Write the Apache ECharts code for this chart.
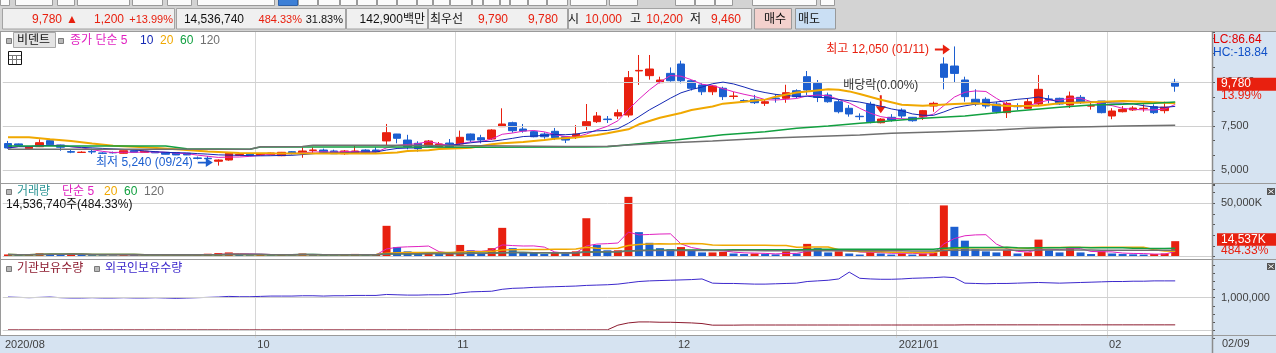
<!DOCTYPE html>
<html><head><meta charset="utf-8">
<script src="https://cdn.jsdelivr.net/npm/echarts@6/dist/echarts.min.js"></script>
<style>html,body{margin:0;padding:0;background:#fff;}#c{width:1276px;height:353px;}</style>
</head><body><div id="c"></div>
<script>
// ---------------- DATA ----------------
const dates = ['2020/08/27','2020/08/28','2020/08/31',
'2020/09/01','2020/09/02','2020/09/03','2020/09/04','2020/09/07','2020/09/08','2020/09/09','2020/09/10','2020/09/11','2020/09/14','2020/09/15','2020/09/16','2020/09/17','2020/09/18','2020/09/21','2020/09/22','2020/09/23','2020/09/24','2020/09/25','2020/09/28','2020/09/29',
'2020/10/05','2020/10/06','2020/10/07','2020/10/08','2020/10/12','2020/10/13','2020/10/14','2020/10/15','2020/10/16','2020/10/19','2020/10/20','2020/10/21','2020/10/22','2020/10/23','2020/10/26','2020/10/27','2020/10/28','2020/10/29','2020/10/30',
'2020/11/02','2020/11/03','2020/11/04','2020/11/05','2020/11/06','2020/11/09','2020/11/10','2020/11/11','2020/11/12','2020/11/13','2020/11/16','2020/11/17','2020/11/18','2020/11/19','2020/11/20','2020/11/23','2020/11/24','2020/11/25','2020/11/26','2020/11/27','2020/11/30',
'2020/12/01','2020/12/02','2020/12/03','2020/12/04','2020/12/07','2020/12/08','2020/12/09','2020/12/10','2020/12/11','2020/12/14','2020/12/15','2020/12/16','2020/12/17','2020/12/18','2020/12/21','2020/12/22','2020/12/23','2020/12/24','2020/12/28','2020/12/29','2020/12/30',
'2021/01/04','2021/01/05','2021/01/06','2021/01/07','2021/01/08','2021/01/11','2021/01/12','2021/01/13','2021/01/14','2021/01/15','2021/01/18','2021/01/19','2021/01/20','2021/01/21','2021/01/22','2021/01/25','2021/01/26','2021/01/27','2021/01/28','2021/01/29',
'2021/02/01','2021/02/02','2021/02/03','2021/02/04','2021/02/05','2021/02/08','2021/02/09'];

const openP = [6500,6480,6210,6320,6665,6420,6040,5990,6050,5960,5990,5945,6090,6000,6030,6000,5980,5945,5680,5660,5490,5560,5830,5900,5850,5860,5805,6035,5940,6110,6130,6075,5920,5960,6130,6130,6650,7046,6700,6515,6360,6320,6530,6475,7046,6835,6760,7465,7692,7330,7180,7045,7200,6890,6855,7520,7750,7900,8075,8130,10650,10380,9980,10510,11045,10090,9845,9460,9660,9190,8960,9030,8800,9100,9085,9520,10320,9940,9275,8890,8515,8060,8745,7690,8000,8418,8000,8035,8645,11045,10930,10130,9030,9030,8760,8265,8640,8515,8760,9050,9085,8700,9140,8640,8930,8075,8320,8420,8500,8605,8380,10000];
const closeP = [6250,6400,6320,6550,6435,6290,6010,6010,6020,5940,5970,6090,6000,6060,5970,5890,5850,5850,5650,5630,5560,5945,5880,5830,5900,5960,6000,5920,6075,6130,6000,5920,6075,6075,5980,6020,7120,6800,6320,6210,6645,6475,6285,6857,6700,6700,7275,7617,7235,7217,6890,6890,6835,6700,7045,7750,8075,7870,8265,10265,10680,10760,10130,10090,10090,9660,9460,9790,9180,9215,8930,8835,8890,9070,9405,9180,9560,9140,8890,8320,8190,8035,7750,7900,7845,8075,7805,8380,8800,10285,10510,9180,8760,8645,8320,8800,8605,8890,9600,9010,8760,9215,8835,8660,8265,8360,8455,8530,8515,8265,8580,9780];
const lowP = [6200,6350,6180,6300,6400,6090,5950,5960,5900,5900,5930,5930,5980,5990,5960,5880,5840,5840,5600,5450,5240,5520,5800,5800,5820,5840,5780,5880,5690,5940,5945,5920,5860,5940,5900,5940,6400,6515,6170,6035,6300,6300,6230,6400,6590,6515,6700,7465,7120,7120,6860,6780,6700,6530,6760,7275,7675,7675,7900,8000,9850,10150,9940,10040,9940,9530,9270,9270,8990,9030,8860,8760,8650,8840,8830,9085,9275,8870,8835,8225,8035,7850,7655,7650,7750,7940,7750,7845,8320,9600,9980,8890,8645,8510,8225,7960,8420,8490,8700,8800,8710,8530,8760,8440,8225,7890,8280,8360,8320,8190,8225,9460];
const highP = [6650,6500,6350,6740,6700,6440,6130,6060,6200,6000,6040,6100,6100,6070,6040,6010,5990,5950,5760,5790,5600,6000,5900,5920,5930,5980,6020,6070,6285,6285,6210,6150,6130,6400,6170,6285,7620,7050,7000,6630,6700,6590,6760,7240,7070,7000,7320,8514,7750,7620,7230,7140,7390,6890,7560,8760,8300,8075,8450,10645,11560,11560,10320,10850,11235,10130,9940,9850,9750,9460,9030,9280,8990,9330,9860,9600,10645,10130,9410,9030,8700,8225,8890,7950,8180,8510,8020,8420,8890,11430,12050,10320,9600,9140,8890,8890,8800,9080,10420,9270,9120,9470,9270,8860,8930,8520,8640,8640,8740,8740,8890,10200];

// volume, unit: 1,000 shares (K)
const volumeK = [2100,1600,1800,3200,2400,2000,3100,1700,1500,1400,1300,2000,1600,1200,1100,1300,1200,1000,2300,2800,3400,4000,1900,1500,1600,1400,1800,1300,3000,1900,1400,1300,1500,2600,1600,1700,
28900,9000,5000,3000,4000,2500,3000,11000,6000,3000,8000,27000,8000,4000,3500,2500,4000,3000,5000,36000,11000,6000,6000,56000,23000,13000,8000,7000,9000,6000,4000,4000,4500,3000,2500,3000,2500,2200,5000,3000,12000,8000,4000,5000,3000,2000,6000,3000,2000,3000,2000,3000,4000,48000,28000,15000,7000,5000,4000,6000,3000,4000,16000,6000,4000,8000,4000,2500,5000,3000,2500,2200,2000,2500,3001.41,14536.74];

// holdings (shares)
const foreignHold = [1020000,1010000,1000000,1010000,1020000,1000000,990000,990000,1000000,990000,990000,1000000,990000,990000,1000000,990000,980000,990000,1000000,1010000,1020000,1040000,1030000,1030000,
1040000,1050000,1050000,1050000,1060000,1060000,1050000,1060000,1060000,1070000,1070000,1070000,1100000,1090000,1080000,1080000,1090000,1090000,1100000,
1150000,1180000,1190000,1200000,1260000,1290000,1300000,1320000,1330000,1340000,1350000,1360000,
1380000,1390000,1400000,1420000,1460000,1500000,1520000,1530000,1540000,1550000,1560000,1580000,
1450000,1440000,1440000,1430000,1420000,1420000,1430000,1440000,1450000,1500000,1520000,1540000,
1580000,1790000,1600000,1580000,1570000,1570000,1580000,1600000,1610000,1620000,
1640000,1620000,1450000,1440000,1430000,1440000,1440000,
1450000,1460000,1470000,1460000,1450000,1460000,1470000,1480000,1490000,1500000,1500000,1510000,1510000,1520000,1520000,1520000];
const instHold = [5000,5000,5000,5000,5000,5000,5000,5000,5000,5000,5000,5000,5000,5000,5000,5000,5000,5000,5000,5000,5000,5000,5000,5000,5000,5000,5000,5000,5000,5000,5000,5000,5000,5000,5000,5000,5000,5000,5000,5000,5000,5000,5000,5000,5000,5000,5000,5000,5000,5000,5000,5000,5000,5000,5000,5000,5000,5000,
150000,220000,250000,250000,240000,240000,230000,220000,200000,
150000,150000,150000,155000,155000,155000,155000,155000,155000,155000,155000,155000,155000,155000,155000,155000,155000,155000,155000,155000,155000,155000,155000,155000,160000,160000,160000,160000,160000,160000,160000,160000,160000,160000,160000,160000,160000,160000,160000,160000,160000,160000,160000,160000,160000];

// longer moving averages: [candle index, value]
const ma20Pts = [[0,6860],[2,6860],[4,6740],[6,6640],[8,6500],[10,6380],[13,6290],[16,6170],[19,6040],[22,5960],[25,5945],[30,5930],[35,5935],[37,5990],[38,6075],[40,6120],[41,6190],[43,6230],[44,6265],[45,6360],[46,6455],[47,6515],[49,6590],[50,6645],[51,6700],[52,6780],[54,6840],[56,6990],[57,7085],[59,7315],[60,7600],[62,7975],[64,8250],[65,8415],[67,8620],[68,8780],[70,8890],[72,9010],[73,9180],[75,9420],[76,9480],[78,9600],[79,9580],[80,9480],[81,9330],[83,9000],[85,8720],[87,8660],[90,8760],[92,8800],[95,8645],[98,8660],[100,8800],[103,8855],[106,8930],[108,8890],[111,8800]];
const ma60Pts = [[0,6360],[15,6360],[17,6200],[23,6180],[24,6300],[35,6310],[45,6290],[55,6300],[57,6320],[62,6600],[65,6800],[68,7000],[72,7180],[75,7370],[78,7500],[81,7655],[83,7750],[84,7805],[87,7940],[91,8075],[94,8265],[97,8415],[100,8570],[103,8700],[106,8745],[109,8800],[111,8875]];
const ma120Pts = [[0,6170],[23,6175],[24,6320],[28,6330],[29,6400],[35,6400],[45,6370],[53,6330],[57,6350],[62,6515],[67,6650],[72,6800],[76,6890],[81,6990],[84,7085],[89,7180],[94,7275],[97,7370],[100,7430],[103,7465],[106,7500],[111,7540]];

// x-axis tick labels (first trading day shown for each label)
const tickDates = ['2020/08/27','2020/10/05','2020/11/02','2020/12/01','2021/01/04','2021/02/01'];
const tickLabels = ['2020/08','10','11','12','2021/01','02'];
const priceGridVals = [5000, 7500, 10000];
const priceLabelVals = [5000, 7500, 10000];
const volGridVals = [0, 50000];
const holdGridVals = [0, 1000000];
const dividendDate = '2020/12/29';
const dividendRate = '0.00%';

// ---------------- HELPERS ----------------
const FONT = "'Liberation Sans','Noto Sans CJK KR',sans-serif";
const UP = '#e8200f', DN = '#1c5fd0';
const C5 = '#e020c0', C10 = '#1428b4', C20 = '#f0a800', C60 = '#12a040', C120 = '#707070';
const fmt = v => Math.round(v).toLocaleString('en-US');
function sma(arr, n) {
  return arr.map((_, i) => { const s = Math.max(0, i - n + 1); let t = 0; for (let k = s; k <= i; k++) t += arr[k]; return Math.round(t / (i - s + 1)); });
}
const N = dates.length;
const cats = dates.concat(['p1', 'p2', 'p3']);
const tickIdx = tickDates.map(d => dates.indexOf(d));
const gridIdx = tickIdx.filter(i => i > 0);

const hiIdx = highP.indexOf(Math.max(...highP));
const loIdx = lowP.indexOf(Math.min(...lowP));
const divIdx = dates.indexOf(dividendDate);

const chart = echarts.init(document.getElementById('c'), null, { renderer: 'canvas' });

function xAx(gi, showLabel) {
  return {
    type: 'category', gridIndex: gi, data: cats, boundaryGap: true,
    axisLine: { show: false }, axisTick: { show: false },
    splitLine: { show: true, interval: (i) => gridIdx.includes(i), lineStyle: { color: '#d6d6d6', width: 1 } },
    axisLabel: showLabel ? {
      show: true, interval: (i) => tickIdx.includes(i), margin: 1, align: 'left', padding: [0, 0, 0, -3],
      formatter: (v, i) => { const k = tickIdx.indexOf(i); return k >= 0 ? tickLabels[k] : ''; },
      color: '#404040', fontSize: 11, fontFamily: FONT
    } : { show: false }
  };
}
function yAx(gi, min, max, interval, labelFn) {
  return {
    type: 'value', gridIndex: gi, position: 'right', min, max, interval,
    axisLine: { show: false }, splitLine: { show: false },
    axisTick: { show: true, length: 3, lineStyle: { color: '#555' } },
    axisLabel: { margin: 9, color: '#404040', fontSize: 11, fontFamily: FONT, formatter: labelFn, showMinLabel: true, showMaxLabel: true }
  };
}
function gridSeries(xi, yi, vals) {
  return { type: 'line', xAxisIndex: xi, yAxisIndex: yi, data: [], z: 1, silent: true,
    markLine: { silent: true, symbol: 'none', animation: false, label: { show: false },
      lineStyle: { color: '#d0d0d0', type: 'solid', width: 1 }, data: vals.map(v => ({ yAxis: v })) } };
}
function lineS(xi, yi, data, color, w, z) {
  return { type: 'line', xAxisIndex: xi, yAxisIndex: yi, data, showSymbol: false, symbol: 'none', z: z || 3,
    lineStyle: { color, width: w }, silent: true };
}

const candleData = dates.map((_, i) => [openP[i], closeP[i], lowP[i], highP[i]]);
const ma5 = sma(closeP, 5), ma10 = sma(closeP, 10);
const volBars = volumeK.map((v, i) => ({ value: v, itemStyle: { color: (i === 0 || v >= volumeK[i - 1]) ? UP : DN } }));

const GRID_L = 2.74, GRID_R = 64;

const option = {
  animation: false,
  backgroundColor: '#ffffff',
  grid: [
    { left: GRID_L, right: GRID_R, top: 32, height: 152.4 },
    { left: GRID_L, right: GRID_R, top: 185, height: 71.7 },
    { left: GRID_L, right: GRID_R, top: 258.9, height: 79.2 }
  ],
  xAxis: [xAx(0, false), xAx(1, false), xAx(2, true)],
  yAxis: [
    yAx(0, 12500 / 3, 12874, 2500 / 3, v => priceLabelVals.includes(Math.round(v)) ? fmt(v) : ''),
    yAx(1, 0, 67100, 10000, v => Math.round(v) === 50000 ? fmt(v) + 'K' : ''),
    yAx(2, -250000, 2200000, 250000, v => Math.round(v) === 1000000 ? fmt(v) : '')
  ],
  series: [
    gridSeries(0, 0, priceGridVals),
    gridSeries(1, 1, volGridVals),
    gridSeries(2, 2, holdGridVals),
    {
      type: 'candlestick', xAxisIndex: 0, yAxisIndex: 0, data: candleData, barWidth: 8, z: 4,
      itemStyle: { color: UP, color0: DN, borderColor: UP, borderColor0: DN, borderWidth: 1 },
      markPoint: {
        silent: true, animation: false,
        data: [
          { coord: [dates[hiIdx], highP[hiIdx]], symbol: 'path://M0,4L8,4L8,0L15,5L8,10L8,6L0,6Z', symbolSize: [15, 10], symbolOffset: [-12, 3],
            itemStyle: { color: UP },
            label: { show: true, position: 'left', distance: 6, color: UP, fontSize: 12, fontFamily: FONT,
              formatter: '최고 ' + fmt(highP[hiIdx]) + ' (' + dates[hiIdx].slice(5) + ')' } },
          { coord: [dates[loIdx], lowP[loIdx]], symbol: 'path://M0,4L8,4L8,0L15,5L8,10L8,6L0,6Z', symbolSize: [15, 9], symbolOffset: [-13, -3],
            itemStyle: { color: DN },
            label: { show: true, position: 'left', distance: 5, color: DN, fontSize: 12, fontFamily: FONT,
              formatter: '최저 ' + fmt(lowP[loIdx]) + ' (' + dates[loIdx].slice(5) + ')' } },
          { coord: [dates[divIdx], highP[divIdx]], symbol: 'path://M4,0L6,0L6,11L10,11L5,18L0,11L4,11Z', symbolSize: [10, 18], symbolOffset: [0, -14],
            itemStyle: { color: UP },
            label: { show: true, position: 'top', distance: 3, color: '#333333', fontSize: 12, fontFamily: FONT,
              formatter: '배당락(' + dividendRate + ')' } }
        ]
      }
    },
    lineS(0, 0, ma5, C5, 1, 5),
    lineS(0, 0, ma10, C10, 1, 5),
    lineS(0, 0, ma20Pts, C20, 2, 5),
    lineS(0, 0, ma60Pts, C60, 1.5, 5),
    lineS(0, 0, ma120Pts, C120, 1.5, 5),
    { type: 'bar', xAxisIndex: 1, yAxisIndex: 1, data: volBars, barWidth: 8, z: 3, silent: true },
    lineS(1, 1, sma(volumeK, 5), C5, 1, 4),
    lineS(1, 1, sma(volumeK, 20), C20, 1.5, 4),
    lineS(1, 1, sma(volumeK, 60), C60, 1.5, 4),
    lineS(1, 1, sma(volumeK, 120), C120, 1.5, 4),
    lineS(2, 2, instHold, '#8c1a2e', 1, 4),
    lineS(2, 2, foreignHold, '#3c28cc', 1, 4)
  ]
};
chart.setOption(option);

// ---------------- DECORATION (graphic) ----------------
function T(text, x, y, fill, size, align) {
  return { type: 'text', x, y, z: 100, silent: true,
    style: { text, fill, font: (size || 12) + 'px ' + FONT, align: align || 'left', verticalAlign: 'middle' } };
}
function R(x, y, w, h, fill, stroke, z) {
  return { type: 'rect', z: z == null ? 100 : z, silent: true, shape: { x, y, width: w, height: h },
    style: { fill: fill || 'none', stroke: stroke || null, lineWidth: stroke ? 1 : 0 } };
}
function Ln(x1, y1, x2, y2, color, z, w) {
  return { type: 'line', z: z == null ? 100 : z, silent: true, shape: { x1, y1, x2, y2 }, style: { stroke: color, lineWidth: w || 1 } };
}
const G = [];
// header background
G.push(R(0, 0, 1276, 31, '#d3d3d3', null, 90));
const toolbarBtns = [[0,10],[15,53],[57,75],[77,130],[132,163],[167,192],[197,275],[298,318],[318,340],[340,357],[357,377],[377,397],[397,417],[417,433],[433,450],[450,472],[472,483],[483,500],[500,510],[510,528],[528,547],[547,568],[570,607],[609,638],[675,695],[695,715],[715,733],[752,817],[820,835]];
toolbarBtns.forEach(b => G.push(R(b[0] + 0.5, -3.5, b[1] - b[0] - 1, 9, '#fbfbfb', '#9a9a9a', 91)));
G.push(R(278.5, -3.5, 19, 9, '#3d7fd6', '#2d5fa6', 92));
// info row cells
[[2,174],[176,345],[346,427],[428,567],[568,751]].forEach(c => G.push(R(c[0] + 0.5, 8.5, c[1] - c[0], 20.5, '#f0f0f0', '#a3a3a3', 92)));
G.push(R(754.5, 8.5, 37, 20.5, '#f3d1cd', '#999', 92));
G.push(R(795.5, 8.5, 40, 20.5, '#cadff4', '#999', 92));
const RED = '#e8200f', BLK = '#111111';
// [text, x, colour, align, size]
[['9,780',62,RED,'right',12],['▲',66,RED,'left',12],['1,200',124,RED,'right',12],['+13.99%',173,RED,'right',11],['14,536,740',244,BLK,'right',12],
 ['484.33%',302,RED,'right',11],['31.83%',343,BLK,'right',11],['142,900백만',425,BLK,'right',12],['최우선',430,BLK,'left',12],['9,790',508,RED,'right',12],
 ['9,780',558,RED,'right',12],['시',568,BLK,'left',12],['10,000',622,RED,'right',12],['고',630,BLK,'left',12],['10,200',683,RED,'right',12],['저',690,BLK,'left',12],
 ['9,460',741,RED,'right',12],['매수',764,BLK,'left',12],['매도',798,BLK,'left',12]].forEach(t => G.push(T(t[0], t[1], 19.5, t[2], t[4], t[3])));

// right panel & bottom strip
G.push(R(1212, 31, 64, 322, '#d6e3f1', null, -10));
G.push(R(0, 335, 1276, 18, '#d6e3f1', null, -10));
// separators
G.push(Ln(0, 31.5, 1276, 31.5, '#9a9a9a', 95));
G.push(Ln(0, 183.5, 1276, 183.5, '#9a9a9a', 95));
G.push(Ln(0, 259.5, 1276, 259.5, '#9a9a9a', 95));
G.push(Ln(0, 335.5, 1276, 335.5, '#9a9a9a', 95));
G.push(Ln(1212.5, 31, 1212.5, 353, '#8c8c8c', 95, 1.5));
G.push(Ln(0.5, 31, 0.5, 335, '#9a9a9a', 95));

// legends price pane
const mark = (x, y) => R(x + 0.5, y - 2.5, 5, 5, '#b8b8b8', '#7a7a7a', 100);
G.push(mark(6, 41));
G.push(R(13.5, 32.5, 42, 15, '#e4e4e4', '#a8a8a8', 99));
G.push(T('비덴트', 17, 40.5, BLK, 12));
G.push(mark(58, 41));
G.push(T('종가 단순 5', 70, 41, C5, 12));
G.push(T('10', 140, 41, C10, 12));
G.push(T('20', 160, 41, C20, 12));
G.push(T('60', 180, 41, C60, 12));
G.push(T('120', 200, 41, C120, 12));
G.push(R(8.5, 51.5, 13, 13, '#ffffff', BLK, 100));
G.push(Ln(9, 55.5, 21, 55.5, '#777', 101)); G.push(Ln(9, 59.5, 21, 59.5, '#777', 101));
G.push(Ln(12.5, 55, 12.5, 64, '#777', 101)); G.push(Ln(16.5, 55, 16.5, 64, '#777', 101));
// legends volume pane
G.push(mark(6, 192));
G.push(T('거래량', 17, 192, '#2e9696', 12));
G.push(T('단순 5', 62, 192, C5, 12));
G.push(T('20', 104, 192, C20, 12));
G.push(T('60', 124, 192, C60, 12));
G.push(T('120', 144, 192, C120, 12));
G.push(T('14,536,740주(484.33%)', 6, 205, BLK, 12));
// legends holdings pane
G.push(mark(6, 269));
G.push(T('기관보유수량', 17, 269, '#8c1a2e', 12));
G.push(mark(94, 269));
G.push(T('외국인보유수량', 105, 269, '#3c28cc', 12));

// right panel texts
G.push(T('LC:86.64', 1213, 39.5, '#e00000', 12));
G.push(T('HC:-18.84', 1213, 53, '#1050c8', 12));
const lastC = closeP[N - 1], prevC = closeP[N - 2];
const yLast = chart.convertToPixel({ yAxisIndex: 0 }, lastC);
G.push(R(1217, yLast - 8.5, 59, 13, RED, null, 100));
G.push(T(fmt(lastC), 1221, yLast - 2, '#ffffff', 12));
G.push(T(((lastC - prevC) / prevC * 100).toFixed(2) + '%', 1221, yLast + 10, RED, 12));
const lastV = volumeK[N - 1], prevV = volumeK[N - 2];
const yV = chart.convertToPixel({ yAxisIndex: 1 }, lastV);
G.push(R(1217, yV - 8, 59, 12.5, RED, null, 100));
G.push(T(fmt(lastV) + 'K', 1221, yV - 1.7, '#ffffff', 12));
G.push(T((lastV / prevV * 100).toFixed(2) + '%', 1221, yV + 10, RED, 12));
G.push(T(dates[N - 1].slice(5), 1222, 343.5, '#404040', 11));
// close buttons
[188, 263].forEach(y => { G.push(R(1267, y, 8, 7, '#555', null, 100)); G.push(Ln(1268.5, y + 1.5, 1273.5, y + 5.5, '#fff', 101)); G.push(Ln(1273.5, y + 1.5, 1268.5, y + 5.5, '#fff', 101)); });

chart.setOption({ graphic: { elements: G } });
</script></body></html>
